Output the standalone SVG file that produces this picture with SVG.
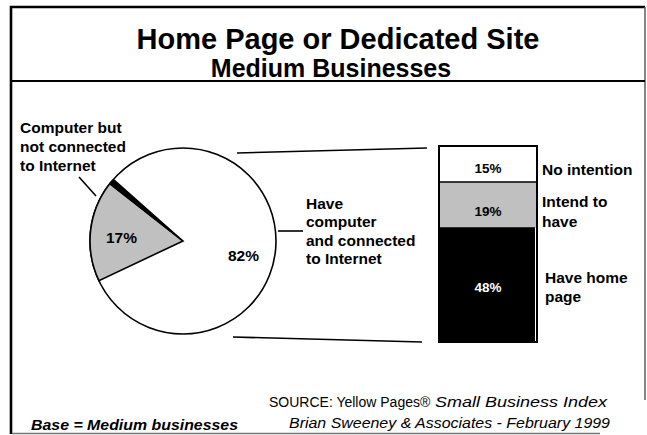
<svg xmlns="http://www.w3.org/2000/svg" width="647" height="435" viewBox="0 0 647 435">
<style>
text{font-family:"Liberation Sans",Arial,sans-serif;fill:#000}
.b{font-weight:bold}
.lbl{font-size:15.5px;font-weight:bold}
.pct{font-size:13.5px;font-weight:bold}
.ft{font-size:14px}
.ln{stroke:#000;stroke-width:1.6;fill:none}
</style>
<rect x="0" y="0" width="647" height="435" fill="#fff"/>
<g id="frame">
<path d="M11,434 V7 H645" fill="none" stroke="#000" stroke-width="2.6"/>
<line x1="645" y1="7" x2="645" y2="400" stroke="#666" stroke-width="1.6"/>
<line x1="12" y1="433.5" x2="600" y2="433.5" stroke="#777" stroke-width="1.4"/>
<line x1="12" y1="81" x2="645" y2="81" stroke="#000" stroke-width="2.2"/>
</g>
<g id="title">
<text x="338" y="49" text-anchor="middle" class="b" font-size="29">Home Page or Dedicated Site</text>
<text x="331" y="77" text-anchor="middle" class="b" font-size="25">Medium Businesses</text>
</g>
<g id="pie">
<circle cx="183" cy="241" r="93" fill="#fff" stroke="#000" stroke-width="1.6"/>
<path d="M183,241 L98.9,280.6 A93,93 0 0 1 109.7,183.7 Z" fill="#c0c0c0" stroke="#000" stroke-width="1.6"/>
<path d="M183,241 L109.7,183.7 A93,93 0 0 1 113.5,179.3 Z" fill="#000" stroke="#000" stroke-width="1.2"/>
<text x="106" y="243" class="lbl">17%</text>
<text x="228" y="261" class="lbl">82%</text>
</g>
<g id="label-not-connected">
<text x="20" y="133" class="lbl">Computer but</text>
<text x="20" y="152" class="lbl">not connected</text>
<text x="20" y="171" class="lbl">to Internet</text>
</g>
<g id="label-connected">
<text x="306" y="209" class="lbl">Have</text>
<text x="306" y="227" class="lbl">computer</text>
<text x="306" y="245.5" class="lbl">and connected</text>
<text x="306" y="264" class="lbl">to Internet</text>
</g>
<g id="bar">
<rect x="439" y="146" width="98" height="36" fill="#fff"/>
<rect x="439" y="182" width="98" height="46" fill="#c0c0c0"/>
<rect x="439" y="228" width="96" height="114" fill="#000"/>
<rect x="439" y="146" width="98" height="196" fill="none" stroke="#000" stroke-width="2"/>
<line x1="439" y1="182" x2="537" y2="182" stroke="#000" stroke-width="1.6"/>
<line x1="439" y1="228" x2="535" y2="228" stroke="#000" stroke-width="1.4"/>
<text x="488" y="173" text-anchor="middle" class="pct">15%</text>
<text x="488" y="216" text-anchor="middle" class="pct">19%</text>
<text x="488" y="292" text-anchor="middle" class="pct" style="fill:#fff">48%</text>
</g>
<g id="bar-labels">
<text x="542" y="175" class="lbl">No intention</text>
<text x="542" y="206.5" class="lbl">Intend to</text>
<text x="542" y="226.5" class="lbl">have</text>
<text x="545" y="283" class="lbl">Have home</text>
<text x="545" y="302" class="lbl">page</text>
</g>
<g id="connectors">
<line class="ln" x1="237" y1="153" x2="427" y2="148"/>
<line class="ln" x1="233" y1="337" x2="422" y2="342"/>
<line class="ln" x1="79" y1="177" x2="96" y2="196"/>
<line class="ln" x1="278" y1="231" x2="303" y2="231"/>
</g>
<g id="footer">
<text x="269" y="407" class="ft">SOURCE: Yellow Pages®</text>
<text x="435" y="407" class="ft" font-style="italic" textLength="172" lengthAdjust="spacingAndGlyphs">Small Business Index</text>
<text x="289" y="428" class="ft" font-style="italic" textLength="321" lengthAdjust="spacingAndGlyphs">Brian Sweeney &amp; Associates - February 1999</text>
<text x="31" y="430" class="b" font-size="15.5" font-style="italic" textLength="207" lengthAdjust="spacingAndGlyphs">Base = Medium businesses</text>
</g>
</svg>
